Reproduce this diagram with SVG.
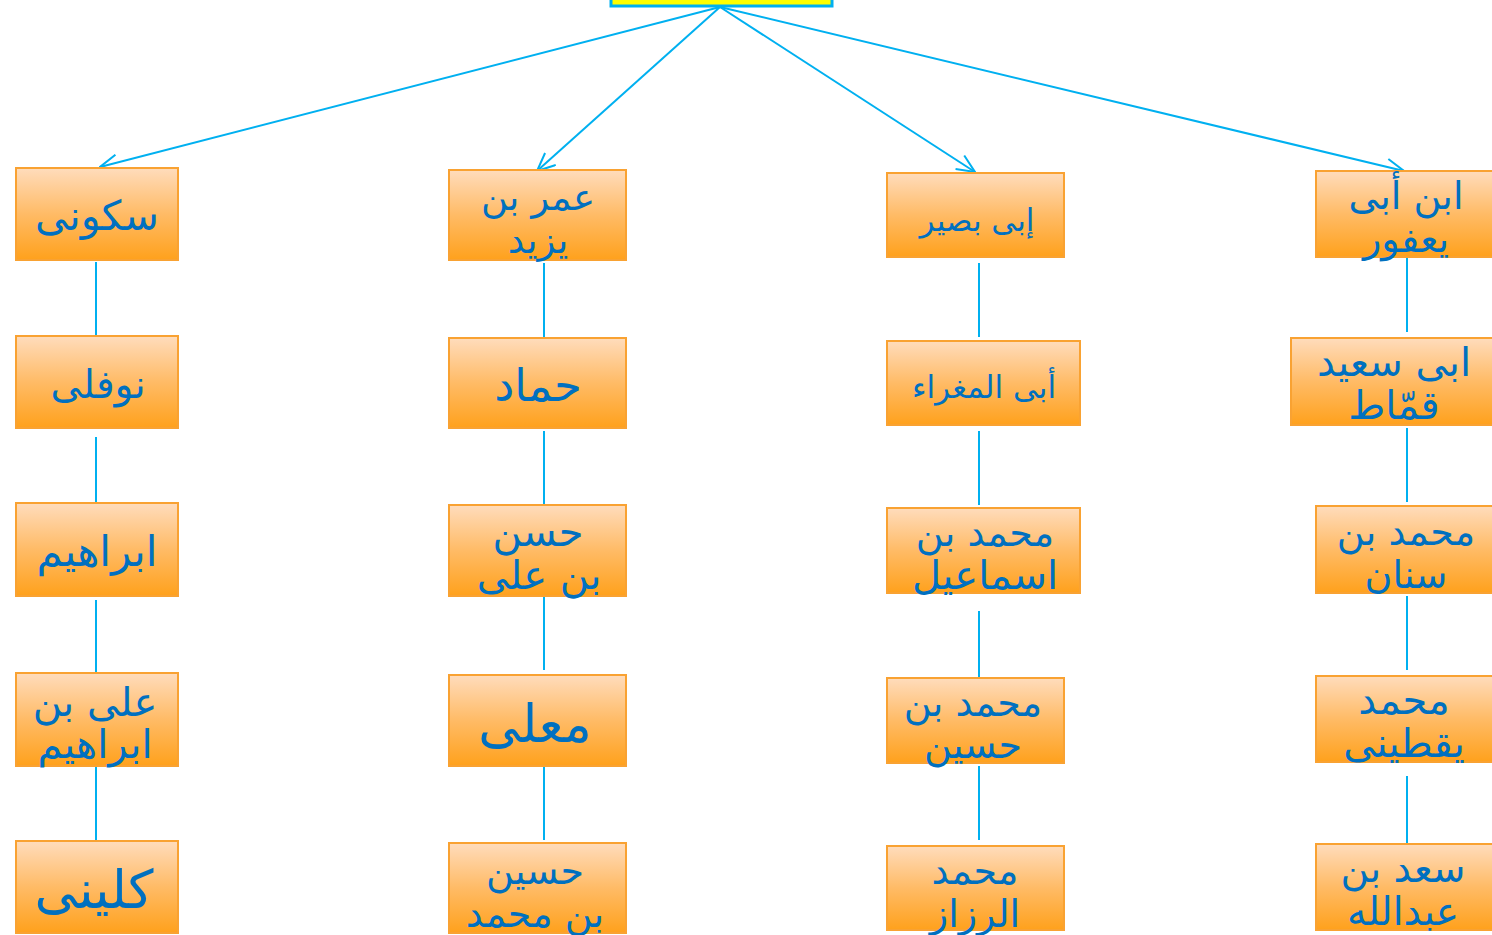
<svg xmlns="http://www.w3.org/2000/svg" width="1492" height="935" viewBox="0 0 1492 935">
  <defs>
    <linearGradient id="orange" x1="0" y1="0" x2="0" y2="1">
      <stop offset="0" stop-color="#ffdcbc"/>
      <stop offset="0.5" stop-color="#ffbb66"/>
      <stop offset="1" stop-color="#ffa11c"/>
    </linearGradient>
    <marker id="open" viewBox="0 0 20 18" refX="19" refY="9" markerWidth="20" markerHeight="18" markerUnits="userSpaceOnUse" orient="auto">
      <path d="M1,1 L19,9 L1,17" fill="none" stroke="#00b0f0" stroke-width="2"/>
    </marker>
  </defs>
  <style>
    .box { fill: url(#orange); stroke: #f9a232; stroke-width: 2; }
    .t { font-family: "DejaVu Sans", "Noto Sans", sans-serif; fill: #0070c0; text-anchor: middle; }
    .edge { stroke: #00b0f0; stroke-width: 2; fill: none; }
    .link { stroke: #00b0f0; stroke-width: 2; }
  </style>
  <rect width="1492" height="935" fill="#ffffff"/>

  <!-- root -->
  <g id="root">
    <rect x="611" y="-6" width="221" height="12" fill="#ffff00" stroke="#00b0f0" stroke-width="3"/>
  </g>

  <!-- connectors -->
  <g id="connectors">
    <line class="edge" x1="720" y1="7" x2="100" y2="167" marker-end="url(#open)"/>
    <line class="edge" x1="720" y1="7" x2="537" y2="171" marker-end="url(#open)"/>
    <line class="edge" x1="720" y1="7" x2="975" y2="172" marker-end="url(#open)"/>
    <line class="edge" x1="720" y1="7" x2="1404" y2="171" marker-end="url(#open)"/>

    <line class="link" x1="96" y1="262" x2="96" y2="341"/>
    <line class="link" x1="96" y1="437" x2="96" y2="517"/>
    <line class="link" x1="96" y1="600" x2="96" y2="680"/>
    <line class="link" x1="96" y1="766" x2="96" y2="843"/>

    <line class="link" x1="544" y1="263" x2="544" y2="345"/>
    <line class="link" x1="544" y1="431" x2="544" y2="512"/>
    <line class="link" x1="544" y1="596" x2="544" y2="670"/>
    <line class="link" x1="544" y1="766" x2="544" y2="840"/>

    <line class="link" x1="979" y1="263" x2="979" y2="337"/>
    <line class="link" x1="979" y1="431" x2="979" y2="505"/>
    <line class="link" x1="979" y1="611" x2="979" y2="685"/>
    <line class="link" x1="979" y1="766" x2="979" y2="840"/>

    <line class="link" x1="1407" y1="257" x2="1407" y2="332"/>
    <line class="link" x1="1407" y1="428" x2="1407" y2="502"/>
    <line class="link" x1="1407" y1="596" x2="1407" y2="670"/>
    <line class="link" x1="1407" y1="776" x2="1407" y2="850"/>
  </g>

  <!-- column 1 -->
  <g id="n-sakuni">
    <rect class="box" x="16" y="168" width="162" height="92"/>
    <text class="t" x="97" y="230" font-size="41">سکونی</text>
  </g>
  <g id="n-nawfali">
    <rect class="box" x="16" y="336" width="162" height="92"/>
    <text class="t" x="98" y="398" font-size="39">نوفلی</text>
  </g>
  <g id="n-ibrahim">
    <rect class="box" x="16" y="503" width="162" height="93"/>
    <text class="t" x="97" y="566" font-size="42">ابراهیم</text>
  </g>
  <g id="n-ali-ibrahim">
    <rect class="box" x="16" y="673" width="162" height="93"/>
    <text class="t" x="95" y="716" font-size="40">علی بن</text>
    <text class="t" x="95" y="758" font-size="40">ابراهیم</text>
  </g>
  <g id="n-kulayni">
    <rect class="box" x="16" y="841" width="162" height="92"/>
    <text class="t" x="94" y="908" font-size="53">کلینی</text>
  </g>

  <!-- column 2 -->
  <g id="n-umar">
    <rect class="box" x="449" y="170" width="177" height="90"/>
    <text class="t" x="538" y="210" font-size="37">عمر بن</text>
    <text class="t" x="538" y="253" font-size="37">یزید</text>
  </g>
  <g id="n-hammad">
    <rect class="box" x="449" y="338" width="177" height="90"/>
    <text class="t" x="538" y="401" font-size="45">حماد</text>
  </g>
  <g id="n-hasan">
    <rect class="box" x="449" y="505" width="177" height="91"/>
    <text class="t" x="538" y="546" font-size="40">حسن</text>
    <text class="t" x="539" y="589" font-size="40">بن علی</text>
  </g>
  <g id="n-mualla">
    <rect class="box" x="449" y="675" width="177" height="91"/>
    <text class="t" x="535" y="742" font-size="52">معلی</text>
  </g>
  <g id="n-husayn">
    <rect class="box" x="449" y="843" width="177" height="90"/>
    <text class="t" x="535" y="884" font-size="38">حسین</text>
    <text class="t" x="535" y="927" font-size="38">بن محمد</text>
  </g>

  <!-- column 3 -->
  <g id="n-abibasir">
    <rect class="box" x="887" y="173" width="177" height="84"/>
    <text class="t" x="977" y="231" font-size="31">إبی بصیر</text>
  </g>
  <g id="n-maghra">
    <rect class="box" x="887" y="341" width="193" height="84"/>
    <text class="t" x="984" y="398" font-size="31">أبی المغراء</text>
  </g>
  <g id="n-ismail">
    <rect class="box" x="887" y="508" width="193" height="85"/>
    <text class="t" x="985" y="546" font-size="38">محمد بن</text>
    <text class="t" x="985" y="589" font-size="40">اسماعیل</text>
  </g>
  <g id="n-muh-husayn">
    <rect class="box" x="887" y="678" width="177" height="85"/>
    <text class="t" x="973" y="716" font-size="38">محمد بن</text>
    <text class="t" x="973" y="758" font-size="38">حسین</text>
  </g>
  <g id="n-razzaz">
    <rect class="box" x="887" y="846" width="177" height="84"/>
    <text class="t" x="975" y="884" font-size="38">محمد</text>
    <text class="t" x="975" y="927" font-size="38">الرزاز</text>
  </g>

  <!-- column 4 -->
  <g id="n-yafur">
    <rect class="box" x="1316" y="171" width="180" height="86"/>
    <text class="t" x="1406" y="209" font-size="38">ابن أبی</text>
    <text class="t" x="1406" y="252" font-size="38">یعفور</text>
  </g>
  <g id="n-qammat">
    <rect class="box" x="1291" y="338" width="205" height="87"/>
    <text class="t" x="1394" y="376" font-size="40">ابی سعید</text>
    <text class="t" x="1394" y="419" font-size="40">قمّاط</text>
  </g>
  <g id="n-sinan">
    <rect class="box" x="1316" y="506" width="180" height="87"/>
    <text class="t" x="1406" y="545" font-size="38">محمد بن</text>
    <text class="t" x="1406" y="588" font-size="38">سنان</text>
  </g>
  <g id="n-yaqtini">
    <rect class="box" x="1316" y="676" width="180" height="86"/>
    <text class="t" x="1404" y="714" font-size="40">محمد</text>
    <text class="t" x="1404" y="757" font-size="40">یقطینی</text>
  </g>
  <g id="n-sad">
    <rect class="box" x="1316" y="844" width="180" height="86"/>
    <text class="t" x="1403" y="882" font-size="39">سعد بن</text>
    <text class="t" x="1403" y="925" font-size="39">عبدالله</text>
  </g>
</svg>
